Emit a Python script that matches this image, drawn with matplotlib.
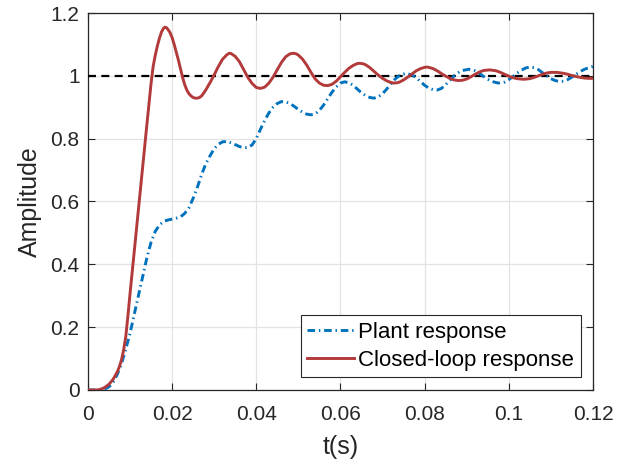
import matplotlib
matplotlib.use("Agg")
import matplotlib.pyplot as plt

# Datos
t_closed = [0, 0.002, 0.003, 0.004, 0.005, 0.006, 0.007, 0.0075, 0.008, 0.0085,
            0.009, 0.0095, 0.010, 0.011, 0.012, 0.013, 0.014, 0.015, 0.0155, 0.016,
            0.0165, 0.017, 0.0175, 0.018, 0.0183, 0.0187, 0.019, 0.0195, 0.020, 0.0205,
            0.021, 0.0215, 0.022, 0.0225, 0.023, 0.0235, 0.024, 0.0245, 0.025, 0.0255,
            0.026, 0.0265, 0.027, 0.0275, 0.028, 0.029, 0.030, 0.031, 0.032, 0.033,
            0.0336, 0.034, 0.035, 0.036, 0.037, 0.038, 0.039, 0.040, 0.041, 0.042,
            0.043, 0.044, 0.045, 0.046, 0.047, 0.048, 0.0488, 0.0495, 0.050, 0.051,
            0.052, 0.053, 0.054, 0.055, 0.056, 0.057, 0.058, 0.059, 0.060, 0.061,
            0.062, 0.063, 0.064, 0.0646, 0.0655, 0.066, 0.067, 0.068, 0.069, 0.070,
            0.071, 0.072, 0.0726, 0.0735, 0.074, 0.075, 0.076, 0.077, 0.078, 0.079,
            0.080, 0.0805, 0.081, 0.082, 0.083, 0.084, 0.085, 0.086, 0.087, 0.088,
            0.089, 0.090, 0.091, 0.092, 0.093, 0.094, 0.0955, 0.097, 0.098, 0.099,
            0.100, 0.101, 0.102, 0.1035, 0.105, 0.106, 0.107, 0.108, 0.109, 0.110,
            0.1115, 0.113, 0.114, 0.115, 0.116, 0.117, 0.118, 0.119, 0.120]
y_closed = [0, 0.0, 0.002, 0.008, 0.018, 0.034, 0.058, 0.075, 0.097, 0.128,
            0.17, 0.235, 0.305, 0.44, 0.575, 0.71, 0.843, 0.975, 1.03, 1.065,
            1.095, 1.12, 1.14, 1.152, 1.155, 1.153, 1.148, 1.138, 1.122, 1.10,
            1.075, 1.05, 1.022, 0.995, 0.972, 0.955, 0.943, 0.936, 0.931, 0.929,
            0.929, 0.931, 0.936, 0.945, 0.955, 0.978, 1.003, 1.03, 1.053, 1.067,
            1.072, 1.071, 1.062, 1.045, 1.02, 0.995, 0.976, 0.963, 0.96, 0.964,
            0.977, 0.996, 1.02, 1.043, 1.061, 1.07, 1.072, 1.07, 1.066, 1.053,
            1.034, 1.011, 0.99, 0.977, 0.97, 0.969, 0.973, 0.983, 0.997, 1.011,
            1.024, 1.033, 1.039, 1.04, 1.038, 1.035, 1.026, 1.014, 1.002, 0.992,
            0.984, 0.979, 0.977, 0.978, 0.98, 0.987, 0.996, 1.006, 1.016, 1.023,
            1.027, 1.028, 1.027, 1.023, 1.016, 1.007, 0.999, 0.992, 0.987, 0.985,
            0.986, 0.99, 0.997, 1.005, 1.012, 1.017, 1.019, 1.016, 1.011, 1.005,
            0.999, 0.994, 0.991, 0.989, 0.991, 0.995, 1.0, 1.005, 1.009, 1.011,
            1.011, 1.008, 1.005, 1.001, 0.998, 0.995, 0.993, 0.992, 0.992]

t_plant = [0, 0.003, 0.004, 0.005, 0.006, 0.007, 0.008, 0.009, 0.010, 0.011,
           0.012, 0.013, 0.014, 0.015, 0.016, 0.017, 0.018, 0.019, 0.020, 0.021,
           0.022, 0.023, 0.024, 0.025, 0.026, 0.027, 0.028, 0.029, 0.030, 0.031,
           0.032, 0.033, 0.034, 0.035, 0.036, 0.037, 0.038, 0.039, 0.040, 0.041,
           0.042, 0.043, 0.044, 0.045, 0.046, 0.047, 0.048, 0.049, 0.050, 0.051,
           0.052, 0.053, 0.054, 0.055, 0.056, 0.057, 0.058, 0.059, 0.060, 0.061,
           0.062, 0.063, 0.064, 0.065, 0.066, 0.067, 0.068, 0.069, 0.070, 0.071,
           0.072, 0.073, 0.074, 0.0755, 0.077, 0.078, 0.079, 0.080, 0.081, 0.082,
           0.083, 0.084, 0.085, 0.086, 0.087, 0.088, 0.089, 0.0905, 0.092, 0.093,
           0.094, 0.095, 0.096, 0.0975, 0.099, 0.100, 0.101, 0.102, 0.103, 0.104,
           0.105, 0.106, 0.107, 0.108, 0.109, 0.110, 0.111, 0.112, 0.113, 0.114,
           0.115, 0.116, 0.117, 0.118, 0.119, 0.120]
y_plant = [0, 0, 0.003, 0.01, 0.025, 0.05, 0.085, 0.13, 0.18, 0.24,
           0.30, 0.36, 0.42, 0.47, 0.505, 0.525, 0.537, 0.541, 0.544, 0.547,
           0.551, 0.562, 0.58, 0.61, 0.645, 0.685, 0.72, 0.745, 0.768, 0.782,
           0.79, 0.791, 0.787, 0.781, 0.775, 0.771, 0.772, 0.78, 0.80, 0.83,
           0.858, 0.882, 0.90, 0.912, 0.918, 0.917, 0.912, 0.903, 0.893, 0.884,
           0.878, 0.876, 0.879, 0.89, 0.907, 0.928, 0.948, 0.965, 0.977, 0.981,
           0.978, 0.97, 0.958, 0.946, 0.937, 0.931, 0.929, 0.933, 0.943, 0.958,
           0.975, 0.99, 1.001, 1.008, 1.003, 0.994, 0.982, 0.97, 0.961, 0.956,
           0.955, 0.96, 0.972, 0.986, 1.0, 1.01, 1.017, 1.021, 1.016, 1.008,
           0.998, 0.989, 0.982, 0.977, 0.98, 0.988, 0.998, 1.009, 1.018, 1.025,
           1.028, 1.026, 1.02, 1.01, 1.0, 0.991, 0.985, 0.982, 0.983, 0.988,
           0.996, 1.005, 1.014, 1.021, 1.026, 1.03]

reference = 1.0
x_ticks = [0, 0.02, 0.04, 0.06, 0.08, 0.1, 0.12]
x_labels = ["0", "0.02", "0.04", "0.06", "0.08", "0.1", "0.12"]
y_ticks = [0, 0.2, 0.4, 0.6, 0.8, 1, 1.2]
y_labels = ["0", "0.2", "0.4", "0.6", "0.8", "1", "1.2"]

plt.rcParams["font.family"] = ["Liberation Sans", "DejaVu Sans"]

fig = plt.figure(figsize=(6.19, 4.68), dpi=100)
ax = fig.add_axes([0.142, 0.1667, 0.816, 0.8055])

# Ploteo de los datos
ax.plot([0, 0.12], [reference, reference], color="black", lw=1.6,
        linestyle=(0, (3.6, 2.4)), zorder=3)
ax.plot(t_plant, y_plant, color="#0072BD", lw=2.1,
        linestyle=(0, (2.6, 1.3, 0.5, 1.3)), label="Plant response", zorder=4)
ax.plot(t_closed, y_closed, color="#B23A3A", lw=2.1,
        label="Closed-loop response", zorder=5)

# Limites y etiquetas
ax.set_xlim(0, 0.12)
ax.set_ylim(0, 1.2)
ax.set_xticks(x_ticks)
ax.set_xticklabels(x_labels)
ax.set_yticks(y_ticks)
ax.set_yticklabels(y_labels)
ax.tick_params(direction="in", length=5, width=0.8, colors="#262626",
               labelsize=15, top=True, right=True)
ax.tick_params(axis="x", pad=11)
ax.tick_params(axis="y", pad=6)
for s in ax.spines.values():
    s.set_color("#262626")
    s.set_linewidth(0.9)
ax.set_xlabel("t(s)", fontsize=18, color="#262626", labelpad=8)
ax.set_ylabel("Amplitude", fontsize=18, color="#262626", labelpad=6)

# Creacion del grid
ax.grid(color="#e3e3e3", lw=0.9)
ax.set_axisbelow(True)

leg = ax.legend(loc="lower right", bbox_to_anchor=(0.976, 0.034),
                fontsize=16, frameon=True, fancybox=False, framealpha=1,
                edgecolor="#262626", borderpad=0.3, labelspacing=0.3,
                handlelength=2.1, handletextpad=0.2, borderaxespad=0)
leg.get_frame().set_linewidth(0.8)

fig.savefig("out.png", dpi=100)
